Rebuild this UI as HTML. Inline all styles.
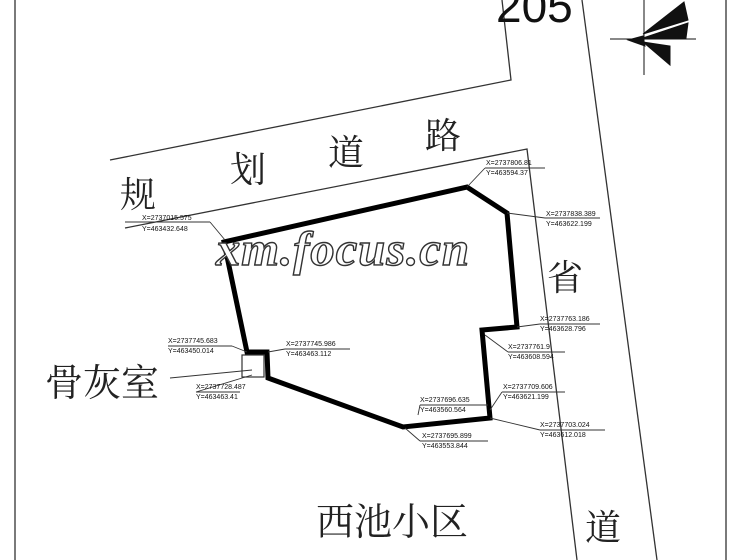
<!DOCTYPE html>
<html><head><meta charset="utf-8"><style>
body{margin:0;background:#fff}
svg{display:block}
.c{font-family:"Noto Serif CJK SC","Liberation Serif",serif;fill:#222}
.s{font-family:"Liberation Sans",sans-serif;font-size:7px;fill:#111}
</style></head><body>
<svg width="750" height="560" viewBox="0 0 750 560" xmlns="http://www.w3.org/2000/svg">
<rect width="750" height="560" fill="#fff"/>
<g stroke="#333" stroke-width="1.3" fill="none">
<line x1="15" y1="0" x2="15" y2="560"/>
<line x1="726" y1="0" x2="726" y2="560"/>
<polyline points="502,0 511,80 110,160"/>
<polyline points="125,228 527,149 577,560"/>
<line x1="582" y1="0" x2="657" y2="560"/>
</g>
<text x="496" y="22" font-family="Liberation Sans,sans-serif" font-size="46" fill="#111">205</text>
<!-- compass -->
<g stroke="#111" stroke-width="1" fill="#111">
<line x1="644" y1="0" x2="644" y2="75" />
<line x1="610" y1="39" x2="696" y2="39"/>
<polygon points="643,34 684,2 688,20"/>
<polygon points="643,38 688,23 686,38"/>
<polygon points="643,42 670,46 670,65"/>
<polygon points="628,40 643,36 645,46"/>
</g>
<polygon points="224,242 467,187 507,213 517,327 482,330 490,418 403,427 268,378 267,352 247,352" fill="none" stroke="#000" stroke-width="5" stroke-linejoin="miter"/>
<rect x="242" y="355" width="22" height="22" fill="none" stroke="#333" stroke-width="1.2"/>
<g stroke="#333" stroke-width="0.9" fill="none">
<line x1="170" y1="378" x2="252" y2="370"/>
<line x1="467" y1="187" x2="485" y2="168"/><line x1="485" y1="168" x2="545" y2="168"/>
<line x1="507" y1="213" x2="545" y2="218"/><line x1="545" y1="218" x2="600" y2="218"/>
<line x1="225" y1="240" x2="210" y2="222"/><line x1="125" y1="222" x2="210" y2="222"/>
<line x1="517" y1="327" x2="540" y2="324"/><line x1="540" y1="324" x2="600" y2="324"/>
<line x1="485" y1="335" x2="508" y2="352"/><line x1="508" y1="352" x2="565" y2="352"/>
<line x1="247" y1="352" x2="232" y2="346"/><line x1="168" y1="346" x2="232" y2="346"/>
<line x1="268" y1="352" x2="285" y2="349"/><line x1="285" y1="349" x2="350" y2="349"/>
<line x1="252" y1="375" x2="196" y2="392"/><line x1="196" y1="392" x2="240" y2="392"/>
<line x1="490" y1="410" x2="502" y2="392"/><line x1="502" y1="392" x2="565" y2="392"/>
<line x1="418" y1="415" x2="420" y2="405"/><line x1="420" y1="405" x2="488" y2="405"/>
<line x1="490" y1="418" x2="540" y2="430"/><line x1="540" y1="430" x2="605" y2="430"/>
<line x1="405" y1="428" x2="420" y2="441"/><line x1="420" y1="441" x2="488" y2="441"/>
</g>
<g class="s">
<text x="486" y="165">X=2737806.81</text><text x="486" y="175">Y=463594.37</text>
<text x="546" y="216">X=2737838.389</text><text x="546" y="226">Y=463622.199</text>
<text x="142" y="220">X=2737015.575</text><text x="142" y="231">Y=463432.648</text>
<text x="540" y="321">X=2737763.186</text><text x="540" y="331">Y=463628.796</text>
<text x="508" y="349">X=2737761.9</text><text x="508" y="359">Y=463608.594</text>
<text x="168" y="343">X=2737745.683</text><text x="168" y="353">Y=463450.014</text>
<text x="286" y="346">X=2737745.986</text><text x="286" y="356">Y=463463.112</text>
<text x="196" y="389">X=2737728.487</text><text x="196" y="399">Y=463463.41</text>
<text x="503" y="389">X=2737709.606</text><text x="503" y="399">Y=463621.199</text>
<text x="420" y="402">X=2737696.635</text><text x="420" y="412">Y=463560.564</text>
<text x="540" y="427">X=2737703.024</text><text x="540" y="437">Y=463612.018</text>
<text x="422" y="438">X=2737695.899</text><text x="422" y="448">Y=463553.844</text>
</g>
<g class="c" font-size="36">
<text x="120" y="207">规</text>
<text x="230" y="182">划</text>
<text x="328" y="165">道</text>
<text x="425" y="148">路</text>
<text x="547" y="290">省</text>
<text x="45" y="396" font-size="38">骨灰室</text>
<text x="316" y="535" font-size="38">西池小区</text>
<text x="585" y="540">道</text>
</g>
<text x="216" y="265" font-family="Liberation Serif,serif" font-style="italic" font-weight="bold" font-size="48" fill="#fff" stroke="#333" stroke-width="1.4" letter-spacing="1" textLength="254" lengthAdjust="spacingAndGlyphs">xm.focus.cn</text>
</svg>
</body></html>
